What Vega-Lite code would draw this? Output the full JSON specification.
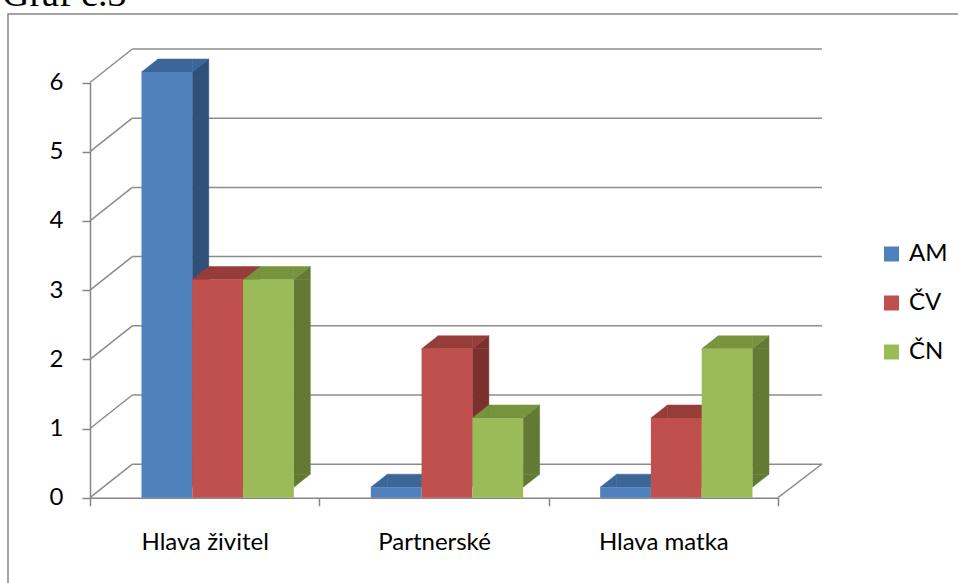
{
  "$schema": "https://vega.github.io/schema/vega-lite/v6.json",
  "width": 955,
  "height": 576,
  "autosize": {"type": "none"},
  "padding": {"left": 8, "top": 14, "right": -5, "bottom": -7},
  "background": "white",
  "title": {
    "text": "Graf č.3",
    "anchor": "start",
    "frame": "group",
    "offset": 2,
    "baseline": "alphabetic",
    "font": "Liberation Serif",
    "fontSize": 38,
    "fontWeight": "normal",
    "color": "black",
    "dx": -6,
    "dy": 31.5
  },
  "datasets": {
    "bars": [
      {"category": "Hlava živitel", "series": "AM", "value": 6},
      {"category": "Hlava živitel", "series": "ČV", "value": 3},
      {"category": "Hlava živitel", "series": "ČN", "value": 3},
      {"category": "Partnerské", "series": "AM", "value": 0},
      {"category": "Partnerské", "series": "ČV", "value": 2},
      {"category": "Partnerské", "series": "ČN", "value": 1},
      {"category": "Hlava matka", "series": "AM", "value": 0},
      {"category": "Hlava matka", "series": "ČV", "value": 1},
      {"category": "Hlava matka", "series": "ČN", "value": 2}
    ],
    "ticks": [
      {"tick": 0}, {"tick": 1}, {"tick": 2}, {"tick": 3}, {"tick": 4}, {"tick": 5}, {"tick": 6}
    ]
  },
  "config": {
    "view": {"stroke": "#868686", "strokeWidth": 1.5},
    "axis": {
      "domainColor": "#868686",
      "domainWidth": 1.5,
      "tickColor": "#868686",
      "tickWidth": 1.5,
      "tickSize": 8,
      "labelFont": "Lato",
      "labelFontSize": 24,
      "labelColor": "black",
      "grid": false,
      "title": null
    },
    "axisY": {"offset": -82, "labelPadding": 19, "format": "d"},
    "axisX": {"offset": -92.3, "labelPadding": 25, "labelAngle": 0, "tickBand": "extent"},
    "legend": {
      "orient": "none",
      "legendX": 871.5,
      "legendY": 228,
      "title": null,
      "symbolType": "square",
      "symbolSize": 225,
      "symbolStrokeWidth": 0,
      "labelFont": "Lato",
      "labelFontSize": 24,
      "labelColor": "black",
      "labelOffset": 5.4,
      "rowPadding": 25,
      "padding": 0
    }
  },
  "layer": [
    {
      "data": {"name": "ticks"},
      "layer": [
        {
          "mark": {"type": "rule", "color": "#8c8c8c", "strokeWidth": 1.5, "xOffset": 42.3, "x2Offset": 44, "yOffset": -33.5},
          "encoding": {
            "x": {"datum": 0, "type": "quantitative", "scale": {"domain": [0, 3], "range": [82, 770], "nice": false, "zero": false}, "axis": null},
            "x2": {"datum": 3},
            "y": {"field": "tick", "type": "quantitative", "scale": {"domain": [0, 6], "range": [483.7, 68.5], "nice": false, "zero": false}, "axis": {"values": [0, 1, 2, 3, 4, 5, 6]}, "title": null}
          }
        },
        {
          "mark": {"type": "rule", "color": "#8c8c8c", "strokeWidth": 1.5, "x2Offset": 42.3, "y2Offset": -33.5},
          "encoding": {
            "x": {"datum": 0, "type": "quantitative"},
            "x2": {"datum": 0},
            "y": {"field": "tick", "type": "quantitative", "title": null},
            "y2": {"field": "tick"}
          }
        },
        {
          "transform": [{"filter": "datum.tick == 0"}],
          "mark": {"type": "rule", "color": "#8c8c8c", "strokeWidth": 1.5, "x2Offset": 44, "y2Offset": -33.7},
          "encoding": {
            "x": {"datum": 3, "type": "quantitative"},
            "x2": {"datum": 3},
            "y": {"field": "tick", "type": "quantitative", "title": null},
            "y2": {"field": "tick"}
          }
        }
      ]
    },
    {
      "data": {"name": "bars"},
      "encoding": {
        "x": {"field": "category", "type": "nominal", "sort": ["Hlava živitel", "Partnerské", "Hlava matka"], "scale": {"range": [82, 770], "paddingInner": 0, "paddingOuter": 0}, "title": null, "axis": {"orient": "bottom"}}
      },
      "layer": [
        {
          "transform": [{"filter": "datum.value > 0"}],
          "mark": {"type": "bar", "yOffset": -10.5, "y2Offset": -23.5, "strokeWidth": 0.5},
          "encoding": {
            "xOffset": {"field": "series", "type": "nominal", "sort": ["AM", "ČV", "ČN"], "scale": {"range": [102.27, 220.31], "paddingInner": 0.675, "paddingOuter": 0}},
            "y": {"field": "value", "type": "quantitative", "stack": null, "title": null},
            "y2": {"datum": 0},
            "fill": {"field": "series", "type": "nominal", "sort": ["AM", "ČV", "ČN"], "scale": {"domain": ["AM", "ČV", "ČN"], "range": ["#2F5079", "#7C302E", "#627A34"]}, "legend": null},
            "stroke": {"field": "series", "type": "nominal", "sort": ["AM", "ČV", "ČN"], "scale": {"domain": ["AM", "ČV", "ČN"], "range": ["#2F5079", "#7C302E", "#627A34"]}, "legend": null}
          }
        },
        {
          "transform": [{"filter": "datum.value > 0"}],
          "mark": {"type": "point", "shape": "M -1 0.788 L 1 -0.788 L 1 0.788 Z", "size": 272.25, "filled": true, "opacity": 1, "yOffset": -17, "strokeWidth": 0.5},
          "encoding": {
            "xOffset": {"field": "series", "type": "nominal", "sort": ["AM", "ČV", "ČN"], "scale": {"range": [110.52, 212.06], "padding": 0}},
            "y": {"field": "value", "type": "quantitative", "title": null},
            "fill": {"field": "series", "type": "nominal", "sort": ["AM", "ČV", "ČN"], "scale": {"domain": ["AM", "ČV", "ČN"], "range": ["#2F5079", "#7C302E", "#627A34"]}, "legend": null},
            "stroke": {"field": "series", "type": "nominal", "sort": ["AM", "ČV", "ČN"], "scale": {"domain": ["AM", "ČV", "ČN"], "range": ["#2F5079", "#7C302E", "#627A34"]}, "legend": null}
          }
        },
        {
          "transform": [{"filter": "datum.value > 0"}],
          "mark": {"type": "point", "shape": "M -1 -0.788 L 1 -0.788 L -1 0.788 Z", "size": 272.25, "filled": true, "opacity": 1, "yOffset": -17, "strokeWidth": 0.5},
          "encoding": {
            "xOffset": {"field": "series", "type": "nominal", "sort": ["AM", "ČV", "ČN"], "scale": {"range": [110.52, 212.06], "padding": 0}},
            "y": {"datum": 0, "type": "quantitative", "title": null},
            "fill": {"field": "series", "type": "nominal", "sort": ["AM", "ČV", "ČN"], "scale": {"domain": ["AM", "ČV", "ČN"], "range": ["#2F5079", "#7C302E", "#627A34"]}, "legend": null},
            "stroke": {"field": "series", "type": "nominal", "sort": ["AM", "ČV", "ČN"], "scale": {"domain": ["AM", "ČV", "ČN"], "range": ["#2F5079", "#7C302E", "#627A34"]}, "legend": null}
          }
        },
        {
          "mark": {"type": "bar", "yOffset": -23.5, "y2Offset": -10.5, "strokeWidth": 0.5},
          "encoding": {
            "xOffset": {"field": "series", "type": "nominal", "sort": ["AM", "ČV", "ČN"], "scale": {"range": [68, 203.81], "paddingInner": 0.325, "paddingOuter": 0}},
            "y": {"field": "value", "type": "quantitative", "stack": null, "title": null},
            "y2": {"field": "value"},
            "fill": {"field": "series", "type": "nominal", "sort": ["AM", "ČV", "ČN"], "scale": {"domain": ["AM", "ČV", "ČN"], "range": ["#3C6697", "#963D3A", "#77933D"]}, "legend": null},
            "stroke": {"field": "series", "type": "nominal", "sort": ["AM", "ČV", "ČN"], "scale": {"domain": ["AM", "ČV", "ČN"], "range": ["#3C6697", "#963D3A", "#77933D"]}, "legend": null}
          }
        },
        {
          "mark": {"type": "point", "shape": "M -1 0.788 L 1 -0.788 L 1 0.788 Z", "size": 272.25, "filled": true, "opacity": 1, "yOffset": -17, "strokeWidth": 0.5},
          "encoding": {
            "xOffset": {"field": "series", "type": "nominal", "sort": ["AM", "ČV", "ČN"], "scale": {"range": [59.75, 161.29], "padding": 0}},
            "y": {"field": "value", "type": "quantitative", "title": null},
            "fill": {"field": "series", "type": "nominal", "sort": ["AM", "ČV", "ČN"], "scale": {"domain": ["AM", "ČV", "ČN"], "range": ["#3C6697", "#963D3A", "#77933D"]}, "legend": null},
            "stroke": {"field": "series", "type": "nominal", "sort": ["AM", "ČV", "ČN"], "scale": {"domain": ["AM", "ČV", "ČN"], "range": ["#3C6697", "#963D3A", "#77933D"]}, "legend": null}
          }
        },
        {
          "mark": {"type": "point", "shape": "M -1 0.788 L -1 -0.788 L 1 -0.788 Z", "size": 272.25, "filled": true, "opacity": 1, "yOffset": -17, "strokeWidth": 0.5},
          "encoding": {
            "xOffset": {"field": "series", "type": "nominal", "sort": ["AM", "ČV", "ČN"], "scale": {"range": [110.52, 212.06], "padding": 0}},
            "y": {"field": "value", "type": "quantitative", "title": null},
            "fill": {"field": "series", "type": "nominal", "sort": ["AM", "ČV", "ČN"], "scale": {"domain": ["AM", "ČV", "ČN"], "range": ["#3C6697", "#963D3A", "#77933D"]}, "legend": null},
            "stroke": {"field": "series", "type": "nominal", "sort": ["AM", "ČV", "ČN"], "scale": {"domain": ["AM", "ČV", "ČN"], "range": ["#3C6697", "#963D3A", "#77933D"]}, "legend": null}
          }
        },
        {
          "mark": {"type": "bar", "yOffset": -10.5, "y2Offset": -10.5},
          "encoding": {
            "xOffset": {"field": "series", "type": "nominal", "sort": ["AM", "ČV", "ČN"], "scale": {"range": [51.5, 203.81], "paddingInner": 0, "paddingOuter": 0}},
            "y": {"field": "value", "type": "quantitative", "stack": null, "title": null, "axis": {"values": [0, 1, 2, 3, 4, 5, 6]}},
            "fill": {"field": "series", "type": "nominal", "sort": ["AM", "ČV", "ČN"], "scale": {"domain": ["AM", "ČV", "ČN"], "range": ["#4F81BD", "#C0504D", "#9BBB59"]}, "legend": {}}
          }
        }
      ],
      "resolve": {"scale": {"xOffset": "independent", "fill": "independent", "stroke": "independent"}}
    }
  ],
  "resolve": {"scale": {"x": "independent"}}
}
